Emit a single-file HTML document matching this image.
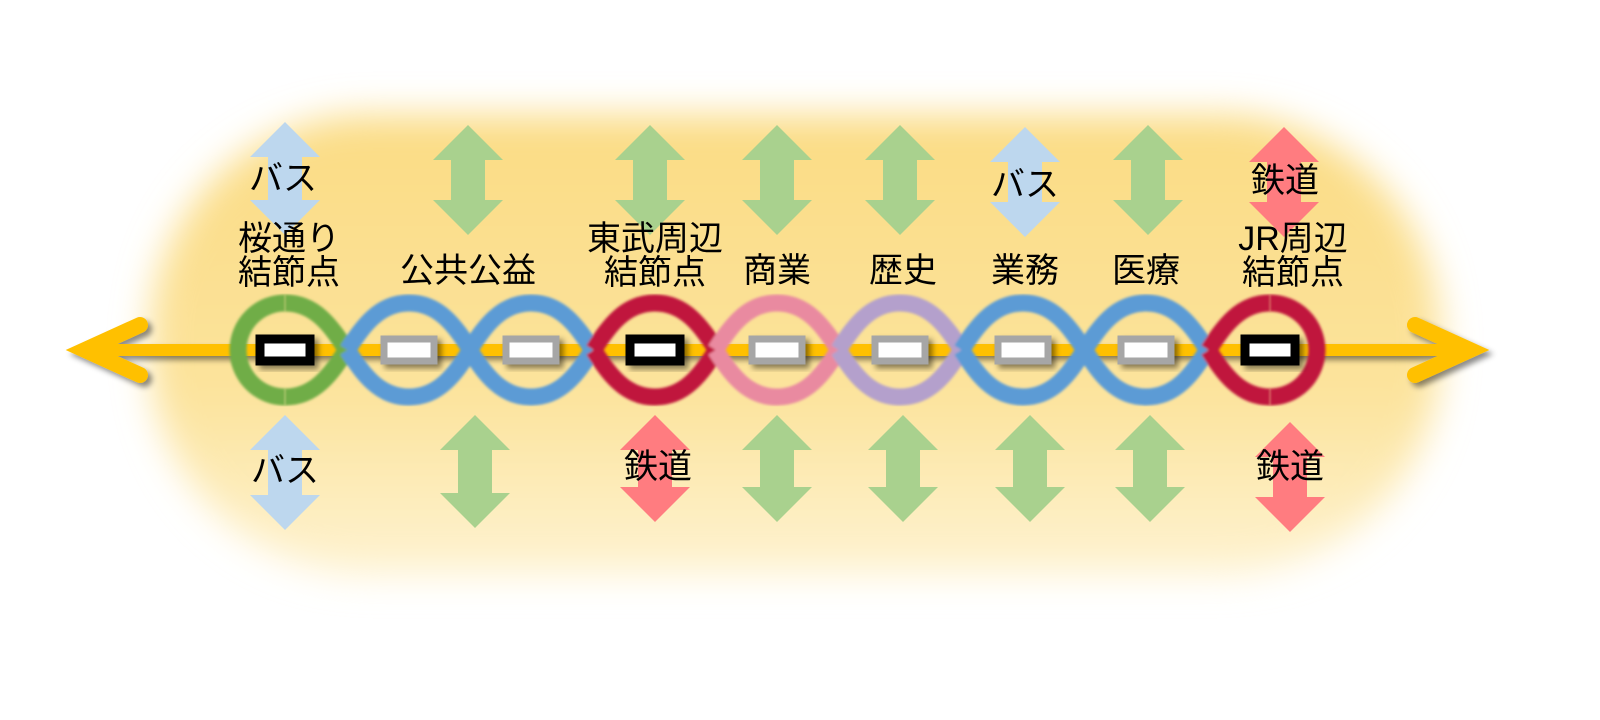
<!DOCTYPE html>
<html><head><meta charset="utf-8"><style>
html,body{margin:0;padding:0;background:#fff;width:1600px;height:720px;overflow:hidden}
text{font-family:"Liberation Sans","Noto Sans CJK JP",sans-serif;font-size:34px;fill:#000;text-anchor:middle}
</style></head><body>
<svg width="1600" height="720" viewBox="0 0 1600 720" xmlns="http://www.w3.org/2000/svg">
<defs>
<filter id="blur" x="-20%" y="-30%" width="140%" height="160%"><feGaussianBlur stdDeviation="18"/></filter>
<filter id="sh" x="-30%" y="-50%" width="160%" height="200%"><feDropShadow dx="4" dy="4" stdDeviation="3" flood-color="#000" flood-opacity="0.45"/></filter>
<filter id="soft"><feGaussianBlur stdDeviation="1.2"/></filter>
<linearGradient id="bg" x1="0" y1="0" x2="0" y2="1">
<stop offset="0" stop-color="#fbdc84"/><stop offset="0.6" stop-color="#fce39c"/><stop offset="1" stop-color="#fef3d2"/></linearGradient>
</defs>
<rect x="150" y="115" width="1290" height="460" rx="220" fill="url(#bg)" filter="url(#blur)"/>

<g id="arrows">
<path d="M285 122 L320 157 L302 157 L302 200 L320 200 L285 235 L250 200 L268 200 L268 157 L250 157Z" fill="#bdd7ee"/>
<path d="M468 125 L503 160 L485 160 L485 200 L503 200 L468 235 L433 200 L451 200 L451 160 L433 160Z" fill="#a9d18e"/>
<path d="M650 125 L685 160 L667 160 L667 200 L685 200 L650 235 L615 200 L633 200 L633 160 L615 160Z" fill="#a9d18e"/>
<path d="M777 125 L812 160 L794 160 L794 200 L812 200 L777 235 L742 200 L760 200 L760 160 L742 160Z" fill="#a9d18e"/>
<path d="M900 125 L935 160 L917 160 L917 200 L935 200 L900 235 L865 200 L883 200 L883 160 L865 160Z" fill="#a9d18e"/>
<path d="M1025 127 L1060 162 L1042 162 L1042 202 L1060 202 L1025 237 L990 202 L1008 202 L1008 162 L990 162Z" fill="#bdd7ee"/>
<path d="M1148 125 L1183 160 L1165 160 L1165 200 L1183 200 L1148 235 L1113 200 L1131 200 L1131 160 L1113 160Z" fill="#a9d18e"/>
<path d="M1284 127 L1319 162 L1301 162 L1301 202 L1319 202 L1284 237 L1249 202 L1267 202 L1267 162 L1249 162Z" fill="#ff7c80"/>

<path d="M285 415 L320 450 L302 450 L302 495 L320 495 L285 530 L250 495 L268 495 L268 450 L250 450Z" fill="#bdd7ee"/>
<path d="M475 415 L510 450 L492 450 L492 493 L510 493 L475 528 L440 493 L458 493 L458 450 L440 450Z" fill="#a9d18e"/>
<path d="M655 415 L690 450 L672 450 L672 487 L690 487 L655 522 L620 487 L638 487 L638 450 L620 450Z" fill="#ff7c80"/>
<path d="M777 415 L812 450 L794 450 L794 487 L812 487 L777 522 L742 487 L760 487 L760 450 L742 450Z" fill="#a9d18e"/>
<path d="M903 415 L938 450 L920 450 L920 487 L938 487 L903 522 L868 487 L886 487 L886 450 L868 450Z" fill="#a9d18e"/>
<path d="M1030 415 L1065 450 L1047 450 L1047 487 L1065 487 L1030 522 L995 487 L1013 487 L1013 450 L995 450Z" fill="#a9d18e"/>
<path d="M1150 415 L1185 450 L1167 450 L1167 487 L1185 487 L1150 522 L1115 487 L1133 487 L1133 450 L1115 450Z" fill="#a9d18e"/>
<path d="M1290 422 L1325 457 L1307 457 L1307 497 L1325 497 L1290 532 L1255 497 L1273 497 L1273 457 L1255 457Z" fill="#ff7c80"/>
</g>

<g filter="url(#sh)">
<line x1="85" y1="350" x2="1470" y2="350" stroke="#ffc000" stroke-width="12"/>
<path d="M140 325 L85 350 L140 375" fill="none" stroke="#ffc000" stroke-width="16" stroke-linecap="round"/>
<path d="M1415 325 L1470 350 L1415 375" fill="none" stroke="#ffc000" stroke-width="16" stroke-linecap="round"/>
</g>

<g fill="none" stroke-width="17" filter="url(#soft)">
<path d="M285 303 A47 47 0 0 0 285 397" stroke="#70ad47"/>
<path d="M1270 303 A47 47 0 0 1 1270 397" stroke="#c0143c"/>
</g>
<g fill="none" stroke-width="17" filter="url(#soft)" id="waves"></g>
<g filter="url(#sh)" id="st"></g>

<text x="283" y="190">バス</text>
<text x="289" y="250">桜通り</text>
<text x="289" y="284">結節点</text>
<text x="468" y="282">公共公益</text>
<text x="655" y="250">東武周辺</text>
<text x="655" y="284">結節点</text>
<text x="777" y="282">商業</text>
<text x="903" y="282">歴史</text>
<text x="1025" y="282">業務</text>
<text x="1146" y="282">医療</text>
<text x="1025" y="196">バス</text>
<text x="1285" y="192">鉄道</text>
<text x="1293" y="250">JR周辺</text>
<text x="1293" y="284">結節点</text>
<text x="285" y="482">バス</text>
<text x="658" y="478">鉄道</text>
<text x="1290" y="478">鉄道</text>
</svg>
<script>
var cx=[285,409,531,655,777,900,1023,1146,1270];
var col=["#70ad47","#5b9bd5","#5b9bd5","#c0143c","#e98aa0","#b4a0cc","#5b9bd5","#5b9bd5","#c0143c"];
var g=document.getElementById('waves'),s=document.getElementById('st'),ns="http://www.w3.org/2000/svg";
function half(x,sgn,dir){
 var h=61.5,r=47,y=350;
 return "M"+x+" "+(y+sgn*r)+" C"+(x+dir*30)+" "+(y+sgn*r)+" "+(x+dir*46)+" "+(y+sgn*24)+" "+(x+dir*h)+" "+y;
}
cx.forEach(function(x,i){
 var ps=[];
 if(i<8){ps.push(half(x,-1,1),half(x,1,1));}
 if(i>0){ps.push(half(x,-1,-1),half(x,1,-1));}
 ps.forEach(function(p){var e=document.createElementNS(ns,'path');e.setAttribute('d',p);e.setAttribute('stroke',col[i]);g.appendChild(e);});
 var big=(i==0||i==3||i==8);
 var rc=document.createElementNS(ns,'rect');
 rc.setAttribute('x',x-25);rc.setAttribute('y',339);rc.setAttribute('width',50);rc.setAttribute('height',22);
 rc.setAttribute('fill','#fff');rc.setAttribute('stroke',big?'#000':'#a6a6a6');rc.setAttribute('stroke-width',big?9:7);
 s.appendChild(rc);
});
</script>
</body></html>
